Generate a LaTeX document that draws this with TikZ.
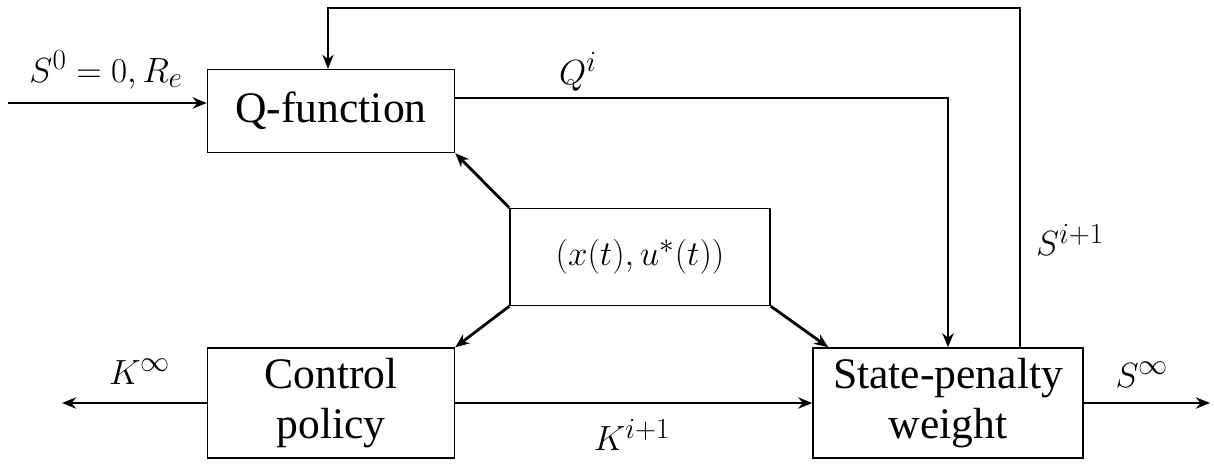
\documentclass[tikz,border=0pt]{standalone}
\usepackage{fontspec}
\setmainfont{Liberation Serif}
\usetikzlibrary{positioning,arrows.meta}
\begin{document}
\begin{tikzpicture}[x=0.025cm,y=-0.025cm,
   blk/.style={draw,line width=1pt,align=center,inner sep=0pt},
   lbl/.style={font=\fontsize{31}{34}\selectfont},
   conn/.style={line width=2pt,-{Stealth[length=10pt,width=8pt]}}]
   \useasboundingbox (0,0) rectangle (1214,466);
   \begin{scope}[font=\fontsize{31}{36}\selectfont]
   \node[blk,minimum width=6.175cm,minimum height=2.075cm] (qfun) at (331,111) {Q-function};
   \node[blk,minimum width=6.5cm,minimum height=2.425cm] (data) at (640,257) {$(x(t),u^*(t))$};
   \node[blk,minimum width=6.175cm,minimum height=2.75cm] (ctrl) at (331,403) {Control\\policy};
   \node[blk,minimum width=6.75cm,minimum height=2.75cm] (state) at (948,403) {State-penalty\\weight};
   \end{scope}
   \coordinate (in) at (8,103);
   \coordinate (kout) at (62,403);
   \coordinate (sout) at (1210,403);

   \draw[conn] (in) -- (qfun.west |- in);
   \draw[conn] (qfun.east |- 0,98) -| (state.north -| 948,0);
   \draw[conn] (state.north -| 1020,0) |- (328,8) -- (qfun.north -| 328,0);
   \draw[conn] (data.north west) -- (qfun.south east);
   \draw[conn] (data.south west) -- (ctrl.north east);
   \draw[conn] (data.south east) -- ([xshift=0.4cm]state.north west);
   \draw[conn] (ctrl.east) -- (state.west);
   \draw[conn] (ctrl.west) -- (kout);
   \draw[conn] (state.east) -- (sout);

   \node[lbl] at (106,70) {$S^0=0,R_e$};
   \node[lbl] at (578,72) {$Q^i$};
   \node[lbl] at (1070,240) {$S^{i+1}$};
   \node[lbl] at (632,435) {$K^{i+1}$};
   \node[lbl] at (140,372) {$K^\infty$};
   \node[lbl] at (1142,375) {$S^\infty$};
\end{tikzpicture}
\end{document}
